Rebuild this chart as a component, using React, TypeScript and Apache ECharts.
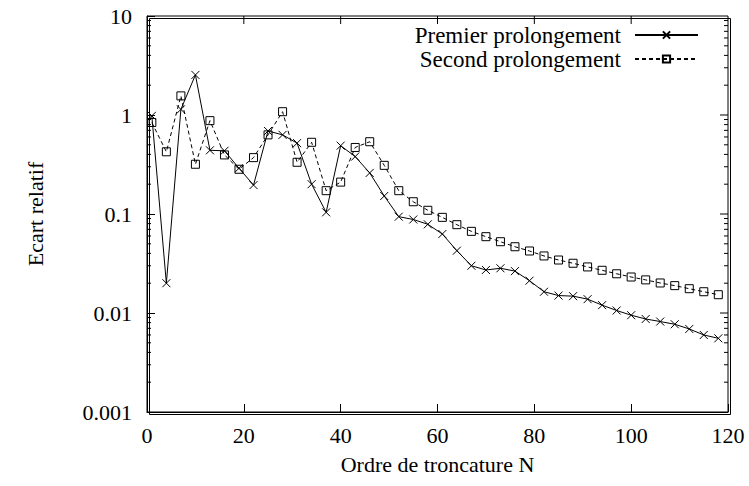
import React, { useEffect, useRef } from "react";
import * as echarts from "echarts";

const orders = [1, 4, 7, 10, 13, 16, 19, 22, 25, 28, 31, 34, 37, 40, 43, 46, 49, 52, 55, 58, 61, 64, 67, 70, 73, 76, 79, 82, 85, 88, 91, 94, 97, 100, 103, 106, 109, 112, 115, 118];
const premier = [0.98, 0.020, 1.14, 2.54, 0.44, 0.435, 0.29, 0.196, 0.69, 0.63, 0.52, 0.20, 0.104, 0.49, 0.38, 0.26, 0.152, 0.094, 0.088, 0.0787, 0.0628, 0.0426, 0.030, 0.0272, 0.0283, 0.0265, 0.0212, 0.0164, 0.0150, 0.0148, 0.0138, 0.0120, 0.0106, 0.0095, 0.0087, 0.0082, 0.0077, 0.0069, 0.0060, 0.00555];
const second = [0.84, 0.425, 1.56, 0.318, 0.877, 0.395, 0.283, 0.371, 0.63, 1.08, 0.333, 0.53, 0.172, 0.21, 0.47, 0.537, 0.31, 0.172, 0.133, 0.109, 0.0925, 0.078, 0.0668, 0.059, 0.0525, 0.0467, 0.0423, 0.0377, 0.0343, 0.0318, 0.0292, 0.027, 0.0249, 0.0231, 0.0216, 0.0201, 0.0189, 0.0176, 0.0164, 0.0153];
const seriesNames = ["Premier prolongement", "Second prolongement"];
const xTitle = "Ordre de troncature N";
const yTitle = "Ecart relatif";
// mirror ticks on top / right edges
const xMirrorTicks = [20, 40, 60, 80, 100];
const yMirrorTicks = [0.01, 0.1, 1];
// minor tick positions of the log axis (2..9 in each decade)
const minorTickValues = [
  0.002, 0.003, 0.004, 0.005, 0.006, 0.007, 0.008, 0.009,
  0.02, 0.03, 0.04, 0.05, 0.06, 0.07, 0.08, 0.09,
  0.2, 0.3, 0.4, 0.5, 0.6, 0.7, 0.8, 0.9,
  2, 3, 4, 5, 6, 7, 8, 9,
];

const FONT = "Liberation Serif";
const X_MAX = 120;
const Y_MAX = 10;

export default function App() {
  const ref = useRef<HTMLDivElement>(null);
  useEffect(() => {
    document.body.style.margin = "0";
    const chart = echarts.init(ref.current!, null, { renderer: "svg" });
    const crossPath = "path://M0,0L10,10M10,0L0,10";
    const ylab = (v: number) => String(+Number(v).toPrecision(1));
    const axisLine = { show: true, onZero: false, lineStyle: { color: "#000", width: 1 } };
    const tick = { show: true, inside: true, length: 8, lineStyle: { color: "#000" } };
    const seg = (x1: number, y1: number, x2: number, y2: number) => ({
      type: "line",
      shape: { x1, y1, x2, y2 },
      style: { stroke: "#000", lineWidth: 1 },
    });
    chart.setOption({
      animation: false,
      backgroundColor: "#fff",
      textStyle: { fontFamily: FONT, color: "#000" },
      grid: {
        left: 147, right: 21, top: 16, bottom: 74, containLabel: false,
        show: true, borderColor: "#000", borderWidth: 1, backgroundColor: "transparent",
      },
      legend: {
        data: seriesNames,
        orient: "vertical",
        align: "right",
        right: 45,
        top: 18,
        padding: 5,
        itemWidth: 63,
        itemHeight: 9,
        itemGap: 0,
        textStyle: { fontFamily: FONT, fontSize: 23, color: "#000", lineHeight: 24, padding: [0, 9, 0, 0] },
      },
      xAxis: {
        type: "value",
        min: 0,
        max: X_MAX,
        interval: 20,
        name: xTitle,
        nameLocation: "middle",
        nameGap: 41,
        nameTextStyle: { fontFamily: FONT, fontSize: 22, color: "#000" },
        axisLine,
        axisTick: tick,
        axisLabel: { fontFamily: FONT, fontSize: 22, color: "#000", margin: 12 },
        splitLine: { show: false },
      },
      yAxis: {
        type: "log",
        logBase: 10,
        min: 0.001,
        max: Y_MAX,
        name: yTitle,
        nameLocation: "middle",
        nameRotate: 90,
        nameGap: 101,
        nameTextStyle: { fontFamily: FONT, fontSize: 22, color: "#000" },
        axisLine,
        axisTick: tick,
        axisLabel: { fontFamily: FONT, fontSize: 22, color: "#000", margin: 15, formatter: ylab },
        splitLine: { show: false },
        minorTick: { show: false },
      },
      graphic: [
        {
          type: "rect",
          left: 147,
          top: 16,
          shape: { width: 581, height: 396 },
          style: { fill: "none", stroke: "#000", lineWidth: 1 },
          silent: true,
          z: 10,
        },
      ],
      series: [
        {
          name: seriesNames[0],
          type: "line",
          data: orders.map((n, i) => [n, premier[i]]),
          symbol: crossPath,
          symbolSize: 8,
          lineStyle: { color: "#000", width: 1, type: "solid" },
          itemStyle: { color: "#000", borderColor: "#000", borderWidth: 1 },
          z: 3,
        },
        {
          name: seriesNames[1],
          type: "line",
          data: orders.map((n, i) => [n, second[i]]),
          symbol: "rect",
          symbolSize: 8,
          lineStyle: { color: "#000", width: 1, type: [4, 3] },
          itemStyle: { color: "transparent", borderColor: "#000", borderWidth: 1 },
          z: 2,
        },
        {
          name: "minorTicks",
          type: "custom",
          silent: true,
          clip: false,
          data: minorTickValues.map((v) => [0, v]),
          renderItem: (params: any, api: any) => {
            const v = api.value(1);
            const l = api.coord([0, v]);
            const r = api.coord([X_MAX, v]);
            return {
              type: "group",
              children: [seg(l[0], l[1], l[0] + 4, l[1]), seg(r[0] - 4, r[1], r[0], r[1])],
            };
          },
          z: 1,
        },
        {
          name: "rightTicks",
          type: "custom",
          silent: true,
          clip: false,
          data: yMirrorTicks.map((v) => [X_MAX, v]),
          renderItem: (params: any, api: any) => {
            const p = api.coord([api.value(0), api.value(1)]);
            return seg(p[0] - 8, p[1], p[0], p[1]);
          },
          z: 1,
        },
        {
          name: "topTicks",
          type: "custom",
          silent: true,
          clip: false,
          data: xMirrorTicks.map((v) => [v, Y_MAX]),
          renderItem: (params: any, api: any) => {
            const p = api.coord([api.value(0), api.value(1)]);
            return seg(p[0], p[1], p[0], p[1] + 8);
          },
          z: 1,
        },
      ],
    });
    return () => chart.dispose();
  }, []);
  return <div ref={ref} style={{ width: 749, height: 486 }} />;
}
